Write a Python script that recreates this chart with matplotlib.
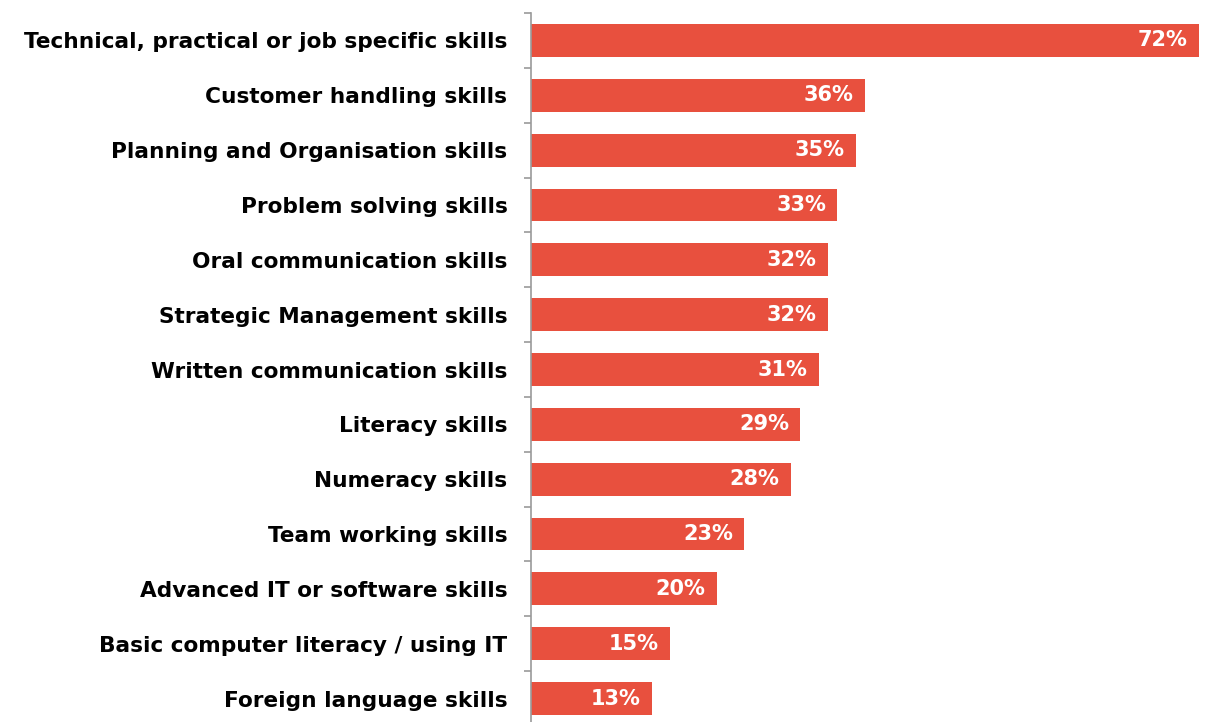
import matplotlib

matplotlib.use("Agg")
import matplotlib.pyplot as plt

plt.rcParams["font.family"] = ["DejaVu Sans"]

skills = [
    "Technical, practical or job specific skills",
    "Customer handling skills",
    "Planning and Organisation skills",
    "Problem solving skills",
    "Oral communication skills",
    "Strategic Management skills",
    "Written communication skills",
    "Literacy skills",
    "Numeracy skills",
    "Team working skills",
    "Advanced IT or software skills",
    "Basic computer literacy / using IT",
    "Foreign language skills",
]
shares = [72, 36, 35, 33, 32, 32, 31, 29, 28, 23, 20, 15, 13]

bar_color = "#E8503E"
axis_color = "#9a9a9a"

W, H = 1205, 722
fig = plt.figure(figsize=(W / 100, H / 100), dpi=100)
# axes placed in pixel terms: left spine at x=531, top at y=13
left, right = 531, 1199
top, bottom = 13, 726
ax = fig.add_axes([left / W, (H - bottom) / H, (right - left) / W, (bottom - top) / H])

pos = list(range(len(skills)))
ax.barh(pos, shares, height=0.6, color=bar_color)
ax.set_ylim(len(skills) - 0.5, -0.5)
ax.set_xlim(0, 72)

# value labels inside the right end of each bar
for y, v in zip(pos, shares):
    ax.annotate(f"{v}%", xy=(v, y), xytext=(-8, 0), textcoords="offset points",
                ha="right", va="center", color="white", fontsize=15, fontweight="bold")

ax.set_yticks(pos)
ax.set_yticklabels(skills, fontsize=15.6, fontweight="bold")
ax.tick_params(axis="y", length=0, pad=17)
# small tick marks between categories
ax.set_yticks([p + 0.5 for p in [-1] + pos], minor=True)
ax.tick_params(axis="y", which="minor", length=5, width=1.2, color=axis_color)
ax.set_xticks([])

for s in ["top", "right", "bottom"]:
    ax.spines[s].set_visible(False)
ax.spines["left"].set_color(axis_color)
ax.spines["left"].set_linewidth(1.2)

fig.savefig("out.png", dpi=100)
